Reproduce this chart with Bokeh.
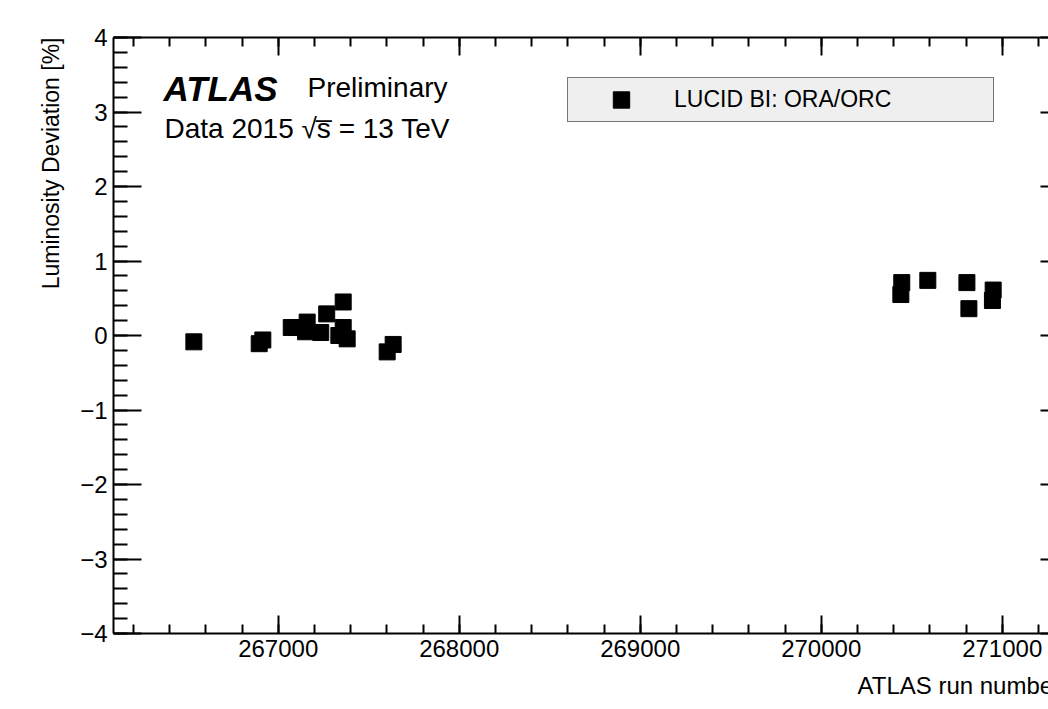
import numpy as np
from bokeh.plotting import figure
from bokeh.models import (Range1d, FixedTicker, LinearAxis, Label, Legend, LegendItem,
                          ColumnDataSource, Title)
from bokeh.embed import file_html
from bokeh.resources import INLINE

# ---------------- data ----------------
run_number = [266534, 266895, 266915, 267072, 267151, 267160, 267235, 267268,
              267359, 267359, 267335, 267381, 267602, 267635,
              270445, 270440, 270589, 270805, 270816, 270950, 270946]
lumi_dev = [-0.085, -0.11, -0.06, 0.107, 0.05, 0.18, 0.04, 0.29,
            0.45, 0.107, 0.0, -0.045, -0.22, -0.12,
            0.71, 0.55, 0.74, 0.71, 0.36, 0.61, 0.47]
series_label = "LUCID BI: ORA/ORC"

x_major = [267000, 268000, 269000, 270000, 271000]
x_major_labels = ["267000", "268000", "269000", "270000", "271000"]
x_minor = list(range(266200, 271400, 200))
y_major = [-4, -3, -2, -1, 0, 1, 2, 3, 4]
y_major_labels = ["\u22124", "\u22123", "\u22122", "\u22121", "0", "1", "2", "3", "4"]
y_minor = [round(v, 1) for v in np.arange(-4.0, 4.01, 0.2)]

# ---------------- layout ----------------
W, H = 1048, 709
left, top, bottom = 113, 37, 76
px_per_unit = 0.181           # pixels per run number
x0 = 266090
x1 = x0 + (W - left) / px_per_unit

FONT = "Liberation Sans"

p = figure(width=W, height=H, output_backend="svg", toolbar_location=None,
           x_range=Range1d(x0, x1), y_range=Range1d(-4, 4),
           min_border_left=left, min_border_top=top, min_border_bottom=bottom,
           min_border_right=0, x_axis_location=None, y_axis_location=None)
p.outline_line_color = None
p.xgrid.visible = False
p.ygrid.visible = False
p.background_fill_color = "white"
p.border_fill_color = "white"


def style_axis(ax, major_len, minor_len, line=True):
    ax.major_tick_in = major_len
    ax.major_tick_out = 0
    ax.minor_tick_in = minor_len
    ax.minor_tick_out = 0
    ax.major_tick_line_width = 2
    ax.minor_tick_line_width = 2
    ax.major_tick_line_color = "black"
    ax.minor_tick_line_color = "black"
    ax.axis_line_width = 2
    ax.axis_line_color = "black" if line else None
    ax.major_label_text_font = FONT
    ax.major_label_text_color = "black"
    ax.major_label_text_font_size = "24px"


def hide_labels(ax, ticks):
    ax.major_label_overrides = {v: "" for v in ticks}
    ax.major_label_text_font_size = "1px"
    ax.major_label_standoff = 0


xt = FixedTicker(ticks=x_major, minor_ticks=x_minor)
yt = FixedTicker(ticks=y_major, minor_ticks=y_minor)

xb = LinearAxis(ticker=xt)
style_axis(xb, 18, 9)
xb.major_label_standoff = 6
xb.major_label_overrides = {v: s for v, s in zip(x_major, x_major_labels)}
p.add_layout(xb, "below")

xa = LinearAxis(ticker=xt)
style_axis(xa, 18, 9)
hide_labels(xa, x_major)
p.add_layout(xa, "above")

yl = LinearAxis(ticker=yt)
style_axis(yl, 28, 14)
yl.major_label_standoff = 6
yl.major_label_overrides = {v: s for v, s in zip(y_major, y_major_labels)}
p.add_layout(yl, "left")

# right axis: only the stubs of its long ticks reach into the visible page
yr = LinearAxis(ticker=yt)
style_axis(yr, 8, 0, line=False)
hide_labels(yr, y_major)
p.add_layout(yr, "right")

# axis titles (ROOT style: aligned to the far ends of the axes)
p.add_layout(Title(text="Luminosity Deviation [%]", align="right", standoff=27,
                   text_font=FONT, text_font_size="23px",
                   text_font_style="normal", text_color="black"), "left")
p.add_layout(Title(text="ATLAS run number", align="left", offset=744, standoff=21,
                   text_line_height=0.75,
                   text_font=FONT, text_font_size="24px",
                   text_font_style="normal", text_color="black"), "below")

src = ColumnDataSource(dict(x=run_number, y=lumi_dev))
r = p.scatter("x", "y", source=src, marker="square", size=16,
              fill_color="black", line_color="black")

legend = Legend(items=[LegendItem(label=series_label, renderers=[r])],
                location=(454, 511), padding=1, spacing=0, margin=0,
                glyph_width=104, glyph_height=41, label_standoff=1,
                label_width=318, label_height=20,
                label_text_font=FONT, label_text_font_size="23px",
                label_text_color="black",
                border_line_color="black", border_line_width=1.5,
                background_fill_color="#efefef", background_fill_alpha=1.0)
p.add_layout(legend, "center")


def px2x(px):
    return x0 + (px - left) / px_per_unit


def py2y(py):
    return 4 - (py - top) / ((H - top - bottom) / 8.0)


p.add_layout(Label(x=px2x(163), y=py2y(88), text="ATLAS", text_font=FONT,
                   text_font_style="bold italic", text_font_size="35px",
                   text_baseline="alphabetic", text_color="black"))
p.add_layout(Label(x=px2x(307), y=py2y(87), text="Preliminary", text_font=FONT,
                   text_font_size="28px", text_baseline="alphabetic",
                   text_color="black"))
p.add_layout(Label(x=px2x(164), y=py2y(128), text="Data 2015 \u221as\u0305 = 13 TeV",
                   text_font=FONT, text_font_size="28px",
                   text_baseline="alphabetic", text_color="black"))

open("out.html", "w").write(file_html(p, INLINE))
